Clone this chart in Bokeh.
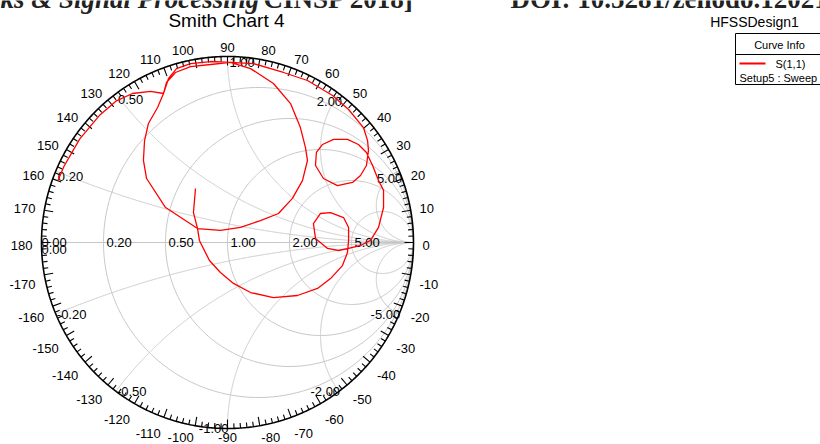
import numpy as np
from bokeh.plotting import figure
from bokeh.models import Range1d, ColumnDataSource
from bokeh.embed import file_html
from bokeh.resources import INLINE
from bokeh.core.properties import value

# ---------------- data ----------------
title_text = "Smith Chart 4"
design_name = "HFSSDesign1"
legend_header = "Curve Info"
series_name = "S(1,1)"
series_setup = "Setup5 : Sweep"
header_left_italic = "ks & Signal Processing"
header_left_plain = "CINSP 2018]"
header_right = "DOI: 10.5281/zenodo.12021"

resistance_values = [0.2, 0.5, 1.0, 2.0, 5.0]
resistance_labels = ["0.20", "0.50", "1.00", "2.00", "5.00"]
reactance_values = [0.2, 0.5, 1.0, 2.0, 5.0]
reactance_labels_pos = ["0.20", "0.50", "1.00", "2.00", "5.00"]
reactance_labels_neg = ["-0.20", "-0.50", "-1.00", "-2.00", "-5.00"]
angle_ticks = list(range(-170, 190, 10))
angle_labels = [str(a) for a in angle_ticks]

s11_re = [-0.172, -0.183, -0.161, -0.151, -0.097, -0.038, 0.032, 0.124, 0.247, 0.376,
          0.484, 0.554, 0.618, 0.645, 0.651, 0.651, 0.624, 0.554, 0.500, 0.462,
          0.473, 0.538, 0.597, 0.651, 0.715, 0.769, 0.812, 0.839, 0.839, 0.812,
          0.780, 0.747, 0.704, 0.645, 0.570, 0.511, 0.478, 0.473, 0.516, 0.591,
          0.672, 0.715, 0.747, 0.758, 0.753, 0.731, 0.651, 0.565, 0.430, 0.301,
          0.140, 0.016, 0.124, 0.247, 0.339, 0.392, 0.419, 0.430, 0.403, 0.349,
          0.274, 0.177, 0.070, -0.038, -0.161, -0.333, -0.435, -0.452, -0.446, -0.425,
          -0.376, -0.344, -0.328, -0.280, -0.199, -0.091, 0.016, -0.091, -0.199, -0.274,
          -0.317, -0.344, -0.414, -0.511, -0.600, -0.686, -0.795, -0.879, -0.912]
s11_im = [0.290, 0.161, 0.075, 0.011, -0.097, -0.161, -0.220, -0.269, -0.296, -0.285,
          -0.247, -0.194, -0.124, -0.054, 0.011, 0.081, 0.134, 0.161, 0.156, 0.102,
          0.022, -0.032, -0.043, -0.032, -0.016, 0.011, 0.081, 0.188, 0.280, 0.333,
          0.414, 0.484, 0.527, 0.554, 0.554, 0.527, 0.484, 0.414, 0.344, 0.306,
          0.323, 0.360, 0.414, 0.495, 0.548, 0.618, 0.715, 0.790, 0.871, 0.914,
          0.962, 0.968, 0.935, 0.855, 0.747, 0.618, 0.511, 0.441, 0.333, 0.237,
          0.156, 0.118, 0.081, 0.065, 0.075, 0.188, 0.344, 0.441, 0.548, 0.640,
          0.726, 0.801, 0.860, 0.914, 0.946, 0.957, 0.968, 0.973, 0.962, 0.935,
          0.882, 0.801, 0.812, 0.801, 0.760, 0.686, 0.556, 0.410, 0.332]

# ---------------- layout ----------------
W, H = 820, 444
CX, CY = 227, 242  # chart centre in pixels
R = 186.0          # chart radius in pixels


def X(px):
    return (px - CX) / R


def Y(py):
    return (CY - py) / R


FONT = value("Liberation Sans")

p = figure(width=W, height=H, output_backend="svg", toolbar_location=None,
           x_range=Range1d(X(0), X(W)), y_range=Range1d(Y(H), Y(0)),
           x_axis_location=None, y_axis_location=None, min_border=0)
p.xgrid.visible = False
p.ygrid.visible = False
p.outline_line_color = None
p.background_fill_color = "white"
p.border_fill_color = "white"

GRID = "#c6c6c6"
# resistance circles
xs, ys = [], []
for r in resistance_values:
    t = np.linspace(0, 2 * np.pi, 400)
    c, rad = r / (1 + r), 1 / (1 + r)
    xs.append(c + rad * np.cos(t))
    ys.append(rad * np.sin(t))
# reactance arcs
tt = np.linspace(0, 0.9995, 900)
rr = tt / (1 - tt)
for xv in reactance_values:
    for s in (1, -1):
        z = rr + 1j * s * xv
        g = (z - 1) / (z + 1)
        xs.append(np.append(g.real, 1.0))
        ys.append(np.append(g.imag, 0.0))
xs.append(np.array([-1.0, 1.0]))
ys.append(np.array([0.0, 0.0]))
p.multi_line(xs, ys, line_color=GRID, line_width=1)

# outer ring
t = np.linspace(0, 2 * np.pi, 720)
p.line(np.cos(t), np.sin(t), line_color="black", line_width=1.6)

# ticks
angs = np.arange(-180, 180, 2)
lens = np.where(angs % 10 == 0, 9.0, 5.0) / R
ar = np.deg2rad(angs)
p.segment(np.cos(ar), np.sin(ar), (1 - lens) * np.cos(ar), (1 - lens) * np.sin(ar),
          line_color="black", line_width=1.1)

# angle labels
groups = {"left": ([], [], []), "right": ([], [], []), "center": ([], [], [])}
for a, lab in zip(angle_ticks, angle_labels):
    th = np.deg2rad(a)
    px = CX + (R + 9) * np.cos(th)
    py = CY - (R + 9) * np.sin(th)
    if a in (0, 180):
        py += 3
    elif a < 0:
        py += 8
    py = min(py, H - 7)
    if a in (90, -90):
        al = "center"
    elif -90 < a < 90:
        al = "left"
    else:
        al = "right"
    groups[al][0].append(X(px))
    groups[al][1].append(Y(py))
    groups[al][2].append(lab)
for al, (gx, gy, gt) in groups.items():
    p.text(gx, gy, text=gt, text_align=al, text_baseline="middle",
           text_font=FONT, text_font_size="13px", text_color="black")

# resistance labels on real axis
res_x = [(r - 1) / (r + 1) + 3 / R for r in resistance_values]
p.text(res_x, [0.0] * len(res_x), text=resistance_labels, text_align="left",
       text_baseline="alphabetic", text_font=FONT, text_font_size="13px", text_color="black")
p.text([-1.0], [0.0], text=["0.00"], text_align="left", text_baseline="alphabetic",
       text_font=FONT, text_font_size="13px", text_color="black")
p.text([-1.0], [-2 / R], text=["0.00"], text_align="left", text_baseline="top",
       text_font=FONT, text_font_size="13px", text_color="black")


# reactance labels
def gam(xv):
    z = 1j * xv
    g = (z - 1) / (z + 1)
    return g.real, g.imag


tl_x, tl_y, tl_t, tr_x, tr_y, tr_t = [], [], [], [], [], []
for xv, lab in zip(reactance_values, reactance_labels_pos):
    gx, gy = gam(xv)
    if xv <= 1:
        tl_x.append(gx + 2 / R); tl_y.append(gy - 1 / R); tl_t.append(lab)
    else:
        tr_x.append(gx + 3 / R); tr_y.append(gy - 3 / R); tr_t.append(lab)
p.text(tl_x, tl_y, text=tl_t, text_align="left", text_baseline="top",
       text_font=FONT, text_font_size="13px", text_color="black")
p.text(tr_x, tr_y, text=tr_t, text_align="right", text_baseline="top",
       text_font=FONT, text_font_size="13px", text_color="black")

bl_x, bl_y, bl_t, br_x, br_y, br_t = [], [], [], [], [], []
for xv, lab in zip(reactance_values, reactance_labels_neg):
    gx, gy = gam(-xv)
    if xv < 1:
        bl_x.append(gx + 1 / R); bl_y.append(gy); bl_t.append(lab)
    else:
        br_x.append(gx + 1 / R); br_y.append(gy); br_t.append(lab)
p.text(bl_x, bl_y, text=bl_t, text_align="left", text_baseline="middle",
       text_font=FONT, text_font_size="13px", text_color="black")
p.text(br_x, br_y, text=br_t, text_align="right", text_baseline="middle",
       text_font=FONT, text_font_size="13px", text_color="black")

# S11 curve
src = ColumnDataSource(dict(x=s11_re, y=s11_im))
p.line("x", "y", source=src, line_color="#ff0000", line_width=1.3)

# title and design name
p.text([X(226)], [Y(20)], text=[title_text], text_align="center", text_baseline="middle",
       text_font=FONT, text_font_size="19px", text_color="black")
p.text([X(754)], [Y(21)], text=[design_name], text_align="center", text_baseline="middle",
       text_font=FONT, text_font_size="14px", text_color="black")

# legend box
p.quad(left=[X(735)], right=[X(840)], top=[Y(33)], bottom=[Y(84)],
       fill_color="white", line_color="black", line_width=1)
p.segment([X(735)], [Y(54)], [X(840)], [Y(54)], line_color="black", line_width=1)
p.text([X(779)], [Y(44)], text=[legend_header], text_align="center", text_baseline="middle",
       text_font=FONT, text_font_size="11px", text_color="black")
p.line([X(739), X(765)], [Y(63), Y(63)], line_color="#ff0000", line_width=2)
p.text([X(775)], [Y(63)], text=[series_name], text_align="left", text_baseline="middle",
       text_font=FONT, text_font_size="11px", text_color="black")
p.text([X(739)], [Y(77)], text=[series_setup], text_align="left", text_baseline="middle",
       text_font=FONT, text_font_size="11px", text_color="black")

# partially visible page header above the chart
SERIF = value("Liberation Serif")
HB = Y(-2)
p.text([X(0)], [HB], text=[header_left_italic], text_align="left", text_baseline="alphabetic",
       text_font=SERIF, text_font_size="27px", text_font_style="bold italic", text_color="#222222")
p.text([X(263)], [HB], text=[header_left_plain], text_align="left", text_baseline="alphabetic",
       text_font=SERIF, text_font_size="27px", text_font_style="bold", text_color="#222222")
p.text([X(510)], [HB], text=[header_right], text_align="left", text_baseline="alphabetic",
       text_font=SERIF, text_font_size="27px", text_font_style="bold", text_color="#222222")

open("out.html", "w").write(file_html(p, INLINE))
